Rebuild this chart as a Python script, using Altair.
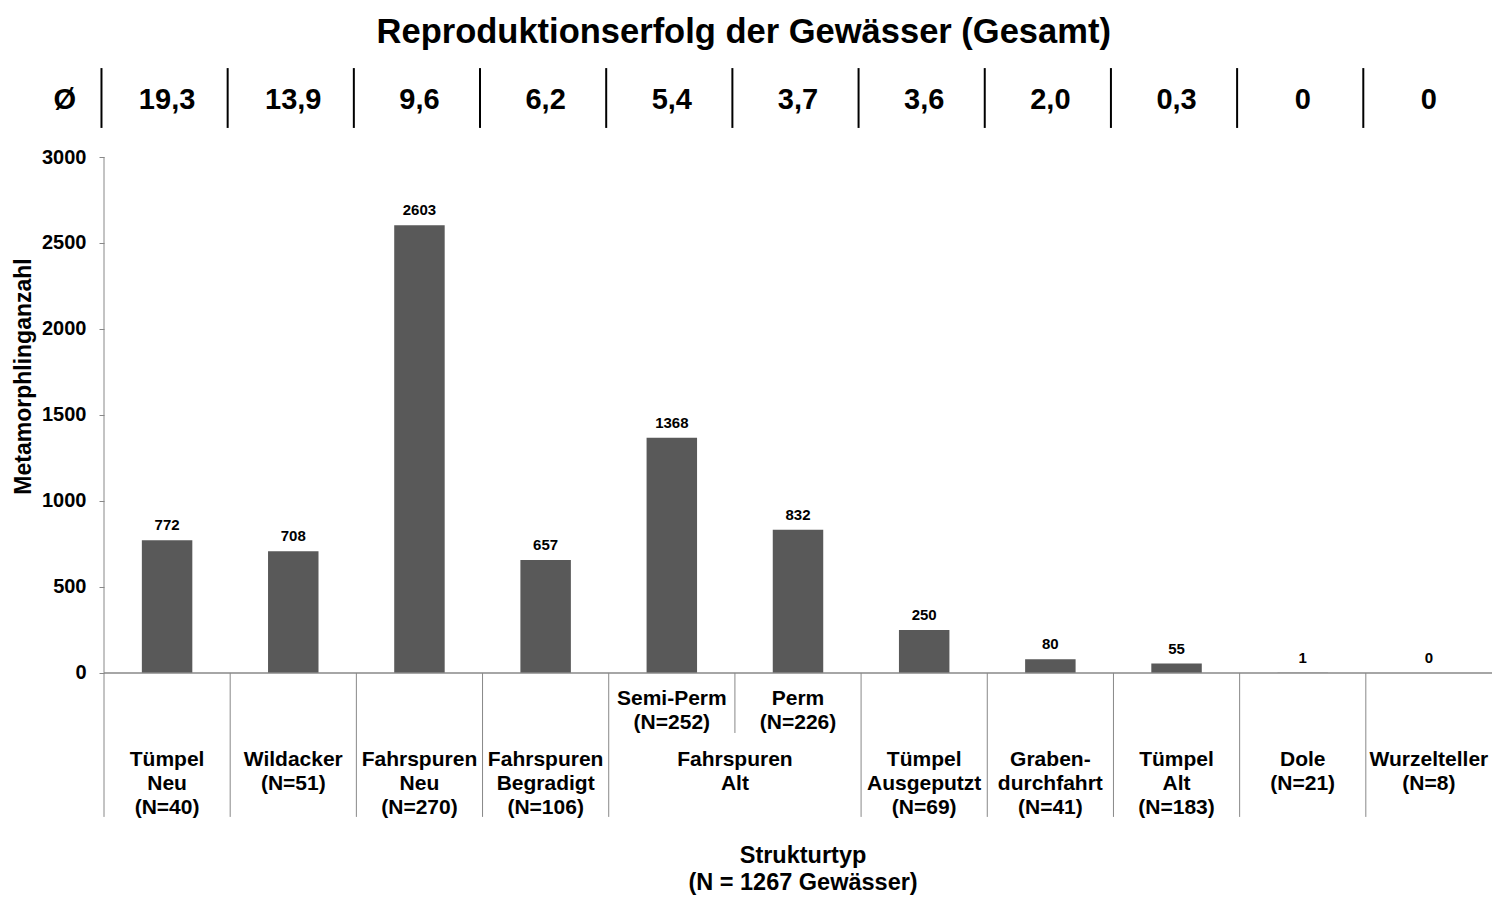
import altair as alt
import pandas as pd

FONT = "Liberation Sans"

# ---- data ----
title_text = "Reproduktionserfolg der Gewässer (Gesamt)"
categories = ["Tümpel Neu", "Wildacker", "Fahrspuren Neu", "Fahrspuren Begradigt",
              "Semi-Perm", "Perm", "Tümpel Ausgeputzt", "Graben-durchfahrt",
              "Tümpel Alt", "Dole", "Wurzelteller"]
values = [772, 708, 2603, 657, 1368, 832, 250, 80, 55, 1, 0]
averages = ["19,3", "13,9", "9,6", "6,2", "5,4", "3,7", "3,6", "2,0", "0,3", "0", "0"]

lower_labels = ["Tümpel\nNeu\n(N=40)", "Wildacker\n(N=51)", "Fahrspuren\nNeu\n(N=270)",
                "Fahrspuren\nBegradigt\n(N=106)", "Fahrspuren\nAlt",
                "Tümpel\nAusgeputzt\n(N=69)", "Graben-\ndurchfahrt\n(N=41)",
                "Tümpel\nAlt\n(N=183)", "Dole\n(N=21)", "Wurzelteller\n(N=8)"]
lower_pos = [0.5, 1.5, 2.5, 3.5, 5.0, 6.5, 7.5, 8.5, 9.5, 10.5]
upper_labels = ["Semi-Perm\n(N=252)", "Perm\n(N=226)"]
upper_pos = [4.5, 5.5]

y_ticks = [0, 500, 1000, 1500, 2000, 2500, 3000]

# ---- layout helpers (in data units) ----
N = len(categories)
Y_TOP, Y_BOT = 3564, -1291
TITLE_Y = 3663
TITLE_X = 5.07
TOP_SEP = (3169, 3517)
TOP_TXT = 3331
LOW_SEP = -837
SHORT_SEP = -349
UPPER_TXT = -87
LOWER_TXT = -442
XTITLE = -995
XTITLE_X = 5.54

xs = alt.Scale(domain=[0, N])
ys = alt.Scale(domain=[Y_BOT, Y_TOP])

bars_df = pd.DataFrame({
    "cat": categories, "value": values,
    "x0": [i + 0.3 for i in range(N)], "x1": [i + 0.7 for i in range(N)],
    "xc": [i + 0.5 for i in range(N)],
})
avg_df = pd.DataFrame({"x": [-0.31] + [i + 0.5 for i in range(N)],
                       "t": ["Ø"] + averages, "y": TOP_TXT})
topsep_df = pd.DataFrame({"x": [k - 0.02 for k in range(N)], "y0": TOP_SEP[0], "y1": TOP_SEP[1]})
lowsep_df = pd.DataFrame({"x": list(range(N)),
                          "y0": 0, "y1": [SHORT_SEP if k == 5 else LOW_SEP for k in range(N)]})
low_df = pd.DataFrame({"x": lower_pos, "t": lower_labels, "y": LOWER_TXT})
up_df = pd.DataFrame({"x": upper_pos, "t": upper_labels, "y": UPPER_TXT})
xt_df = pd.DataFrame({"x": [XTITLE_X], "t": ["Strukturtyp\n(N = 1267 Gewässer)"], "y": XTITLE})
title_df = pd.DataFrame({"x": [TITLE_X], "t": [title_text], "y": [TITLE_Y]})
yaxis_df = pd.DataFrame({"x": [0], "y0": [0], "y1": [3000]})
xaxis_df = pd.DataFrame({"x0": [0], "x1": [N], "y": [0]})

yaxis = alt.Axis(values=y_ticks, format="d", domain=False, grid=False, ticks=True,
                 tickSize=5, tickColor="#888888", labelFont=FONT, labelFontSize=20,
                 labelFontWeight="bold", labelColor="black", labelPadding=13,
                 title="Metamorphlinganzahl", titleFont=FONT, titleFontSize=23,
                 titleFontWeight="bold", titleColor="black", titleAngle=-90,
                 titleX=-81, titleY=316, titleBaseline="middle", titleAlign="center")


def X(field):
    return alt.X(field, scale=xs, axis=None)


def Y(field):
    return alt.Y(field, scale=ys)


bars = alt.Chart(bars_df).mark_rect(color="#595959").encode(
    x=X("x0:Q"), x2="x1:Q",
    y=alt.Y("value:Q", scale=ys, axis=yaxis), y2=alt.datum(0))

bar_labels = alt.Chart(bars_df).mark_text(font=FONT, fontSize=15, fontWeight="bold",
                                          baseline="bottom", dy=-7, color="black").encode(
    x=X("xc:Q"), y=Y("value:Q"), text="value:Q")

avg_text = alt.Chart(avg_df).mark_text(font=FONT, fontSize=29, fontWeight="bold",
                                       baseline="middle", color="black").encode(
    x=X("x:Q"), y=Y("y:Q"), text="t:N")

top_sep = alt.Chart(topsep_df).mark_rule(color="black", strokeWidth=2).encode(
    x=X("x:Q"), y=Y("y0:Q"), y2="y1:Q")

low_sep = alt.Chart(lowsep_df).mark_rule(color="#888888", strokeWidth=1).encode(
    x=X("x:Q"), y=Y("y0:Q"), y2="y1:Q")

y_line = alt.Chart(yaxis_df).mark_rule(color="#888888", strokeWidth=1).encode(
    x=X("x:Q"), y=Y("y0:Q"), y2="y1:Q")

x_line = alt.Chart(xaxis_df).mark_rule(color="#888888", strokeWidth=1.5).encode(
    x=X("x0:Q"), x2="x1:Q", y=Y("y:Q"))


def label_layer(df, size, lh):
    return alt.Chart(df).mark_text(font=FONT, fontSize=size, fontWeight="bold",
                                   baseline="top", lineBreak="\n", lineHeight=lh,
                                   color="black").encode(
        x=X("x:Q"), y=Y("y:Q"), text="t:N")


low_text = label_layer(low_df, 21, 24)
up_text = label_layer(up_df, 21, 24)
xtitle = label_layer(xt_df, 23.5, 27)

title = alt.Chart(title_df).mark_text(font=FONT, fontSize=34.5, fontWeight="bold",
                                      baseline="alphabetic", color="black").encode(
    x=X("x:Q"), y=Y("y:Q"), text="t:N")

chart = alt.layer(bars, bar_labels, avg_text, top_sep, low_sep, y_line, x_line,
                  low_text, up_text, xtitle, title).properties(
    width=1388, height=835,
    background="white",
    autosize=alt.AutoSizeParams(type="none"),
    padding={"left": 96, "top": 52, "right": 0, "bottom": 3},
).configure_view(strokeWidth=0, stroke=None).configure_axis(grid=False)

chart.save("out.html", embed_options={"renderer": "svg", "actions": False})
